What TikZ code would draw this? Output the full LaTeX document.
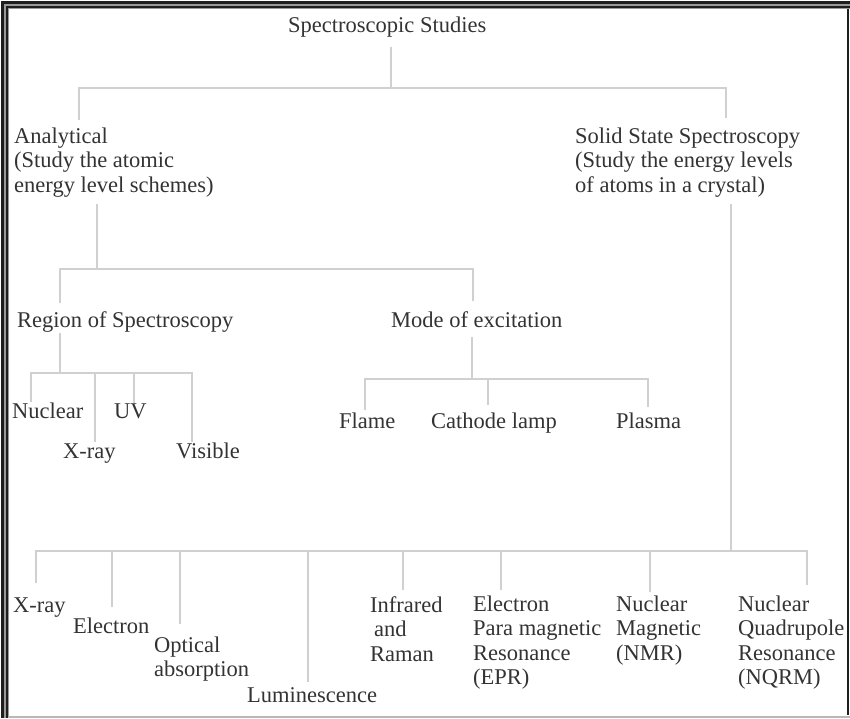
\documentclass[tikz,border=0pt]{standalone}
\usepackage{fontspec}
\setmainfont{Liberation Serif}
\usetikzlibrary{positioning,calc}
\definecolor{ink}{HTML}{333333}
\definecolor{wire}{HTML}{D0D0D0}
\definecolor{rim}{HTML}{1E1E1E}
\definecolor{rimgray}{HTML}{9A9A9A}
\tikzset{
  lbl/.style={anchor=base west, inner sep=0pt, align=left, text=ink,
              font=\fontsize{22.5}{24.6}\selectfont},
  link/.style={draw=wire, line width=1.5pt},
}

\begin{document}
\begin{tikzpicture}[x=1pt, y=-1pt]
  \useasboundingbox (0,0) rectangle (850,718);

  % double frame (left/top), single line right, grey base
  \fill[rimgray] (1,1) rectangle (9,718);
  \fill[rimgray] (1,1) rectangle (850,9);
  \fill[white] (9,9) rectangle (846,715);
  \fill[rim] (1,1) rectangle (4,718);
  \fill[rim] (1,1) rectangle (850,4);
  \fill[rim] (6,6) rectangle (8,718);
  \fill[rim] (6,6) rectangle (850,8);
  \fill[rim] (846.5,9) rectangle (849,715);
  \fill[rimgray!70] (8,715.5) rectangle (850,718);

  % title and the two main branches (base = last line)
  \node[lbl] (root) at (288,32) {Spectroscopic Studies};
  \node[lbl] (ana) at (14,192.2) {Analytical\\(Study the atomic\\energy level schemes)};
  \node[lbl] (solid) at (575,192.2) {Solid State Spectroscopy\\(Study the energy levels\\of atoms in a crystal)};

  % analytical side
  \node[lbl] (region) at (17,327) {Region of Spectroscopy};
  \node[lbl] (mode) at (391,327) {Mode of excitation};

  \node[lbl] (nuc) at (12,418) {Nuclear};
  \node[lbl] (uv) at (114,418) {UV};
  \node[lbl] (xray) at (63,458) {X-ray};
  \node[lbl] (vis) at (176,458) {Visible};

  \node[lbl] (flame) at (339,428) {Flame};
  \node[lbl] (cath) at (431,428) {Cathode lamp};
  \node[lbl] (plasma) at (616,428) {Plasma};

  % solid state side
  \node[lbl] (sxray) at (13,612) {X-ray};
  \node[lbl] (selec) at (73,633) {Electron};
  \node[lbl] (sopt) at (154,676.6) {Optical\\absorption};
  \node[lbl] (slum) at (247,702) {Luminescence};
  \node[lbl] (sir) at (370,661.2) {Infrared\\\hspace{4pt}and\\Raman};
  \node[lbl] (sepr) at (473,684.8) {Electron\\Para magnetic\\Resonance\\(EPR)};
  \node[lbl] (snmr) at (616,660.2) {Nuclear\\Magnetic\\(NMR)};
  \node[lbl] (snqr) at (738,684.8) {Nuclear\\Quadrupole\\Resonance\\(NQRM)};

  % connectors: title -> branches
  \coordinate (rootbus) at (391,88);
  \draw[link] (rootbus |- root.south) ++(0,10) -- (rootbus);
  \draw[link] (79,120) |- (rootbus) -| (726,118);

  % analytical -> region / mode
  \coordinate (anabus) at (97,269);
  \draw[link] (anabus |- ana.south) ++(0,7) -- (anabus);
  \draw[link] (60,303) |- (anabus) -| (473,301);

  % region -> four regions
  \coordinate (regbus) at (60,373);
  \draw[link] (regbus |- region.south) ++(0,1) -- (regbus);
  \draw[link] (31,402) |- (regbus) -| (192,442);
  \foreach \x/\y in {95/442, 134/403}
    \draw[link] (\x,373) -- (\x,\y);

  % mode -> three sources
  \coordinate (modebus) at (472,379);
  \draw[link] (modebus |- mode.south) ++(0,10) -- (modebus);
  \draw[link] (365,410) |- (modebus) -| (648,407);
  \draw[link] (488,379) -- (488,405);

  % solid state -> eight techniques
  \coordinate (solbus) at (731,551);
  \draw[link] (solbus |- solid.south) ++(0,7) -- (solbus);
  \draw[link] (36,583) |- (solbus) -| (807,585);
  \foreach \x/\y in {112/607, 180/624, 308/682, 403/590, 501/590, 650/592}
    \draw[link] (\x,551) -- (\x,\y);
\end{tikzpicture}
\end{document}
